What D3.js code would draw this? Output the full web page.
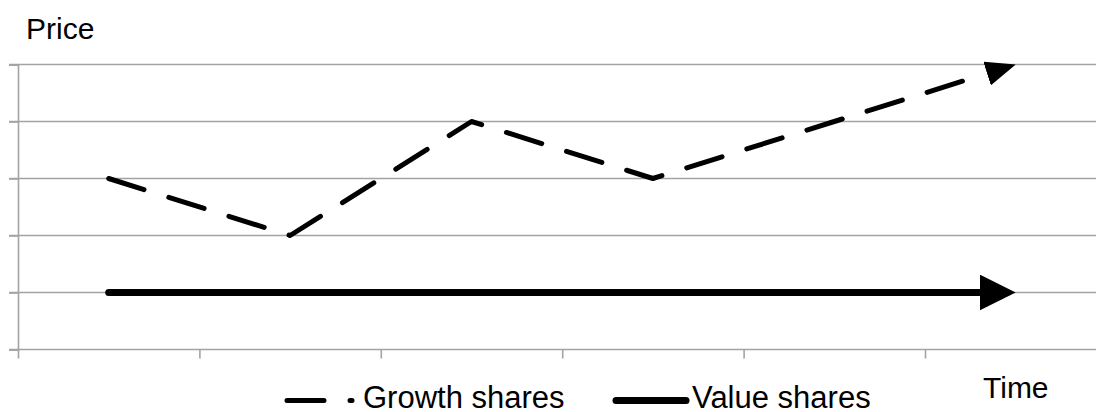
<!DOCTYPE html>
<html>
<head>
<meta charset="utf-8">
<script src="https://cdn.jsdelivr.net/npm/d3@7"></script>
<style>
  html, body { margin: 0; padding: 0; background: #fff; }
  text { font-family: "Liberation Sans", Arial, sans-serif; fill: #000; }
</style>
</head>
<body>
<div id="chart"></div>
<script>
// chart data
const periods = ['t1', 't2', 't3', 't4', 't5', 't6'];
const growthShares = [3, 2, 4, 3, 4, 5];
const valueShares = [1, 1, 1, 1, 1, 1];
const yTicks = [0, 1, 2, 3, 4, 5];

const width = 1096;
const height = 412;

const svg = d3.select('#chart').append('svg')
  .attr('width', width)
  .attr('height', height);

// scales: plot runs a bit past the right edge like the original
const x = d3.scaleBand().domain(periods).range([18, 1106.4]);
const xEdge = d3.scaleLinear().domain([0, periods.length]).range([18, 1106.4]);
const y = d3.scaleLinear().domain([0, 5]).range([349.5, 64.5]);

// gridlines
svg.append('g')
  .selectAll('line')
  .data(yTicks.filter((d) => d > 0))
  .join('line')
  .attr('x1', 9)
  .attr('x2', width)
  .attr('y1', (d) => y(d))
  .attr('y2', (d) => y(d))
  .attr('stroke', '#a3a3a3')
  .attr('stroke-width', 1.6);

// axes
const yAxis = svg.append('g')
  .attr('transform', `translate(${xEdge(0)},0)`)
  .call(d3.axisLeft(y).tickValues(yTicks).tickSize(9).tickFormat(''));

const xAxis = svg.append('g')
  .attr('transform', `translate(0,${y(0)})`)
  .call(d3.axisBottom(xEdge).tickValues(d3.range(0, periods.length + 1)).tickSize(9).tickFormat(''));

[yAxis, xAxis].forEach((a) => {
  a.select('.domain').attr('stroke', '#a3a3a3').attr('stroke-width', 1.6);
  a.selectAll('.tick line').attr('stroke', '#a3a3a3').attr('stroke-width', 1.6);
});
xAxis.select('.domain').attr('d', `M9,0H${width}`);

// arrow markers
const defs = svg.append('defs');
function addMarker(id, len, wid) {
  defs.append('marker')
    .attr('id', id)
    .attr('markerUnits', 'userSpaceOnUse')
    .attr('markerWidth', len)
    .attr('markerHeight', wid)
    .attr('refX', 0)
    .attr('refY', wid / 2)
    .attr('orient', 'auto')
    .attr('viewBox', `0 0 ${len} ${wid}`)
    .append('path')
    .attr('d', `M0,0L${len},${wid / 2}L0,${wid}Z`)
    .attr('fill', '#000');
}
addMarker('arrowGrowth', 30, 25);
addMarker('arrowValue', 36, 36);

// points pulled back at the end so the arrow tip lands on the last value
function arrowPoints(values, back) {
  const pts = values.map((v, i) => [x(periods[i]) + x.bandwidth() / 2, y(v)]);
  const n = pts.length;
  const [x0, y0] = pts[n - 2];
  const [x1, y1] = pts[n - 1];
  const len = Math.hypot(x1 - x0, y1 - y0);
  pts[n - 1] = [x1 - (x1 - x0) * back / len, y1 - (y1 - y0) * back / len];
  return pts;
}

const line = d3.line();

svg.append('path')
  .attr('d', line(arrowPoints(valueShares, 36)))
  .attr('fill', 'none')
  .attr('stroke', '#000')
  .attr('stroke-width', 7)
  .attr('stroke-linecap', 'round')
  .attr('marker-end', 'url(#arrowValue)');

svg.append('path')
  .attr('d', line(arrowPoints(growthShares, 30)))
  .attr('fill', 'none')
  .attr('stroke', '#000')
  .attr('stroke-width', 5)
  .attr('stroke-dasharray', '37,26')
  .attr('stroke-linecap', 'round')
  .attr('stroke-linejoin', 'round')
  .attr('marker-end', 'url(#arrowGrowth)');

// axis titles
svg.append('text')
  .attr('x', 26)
  .attr('y', 39)
  .style('font-size', '30px')
  .text('Price');

svg.append('text')
  .attr('x', 983)
  .attr('y', 398)
  .style('font-size', '30px')
  .text('Time');

// legend
const legend = svg.append('g');
legend.append('line')
  .attr('x1', 287).attr('x2', 352)
  .attr('y1', 400.5).attr('y2', 400.5)
  .attr('stroke', '#000')
  .attr('stroke-width', 5)
  .attr('stroke-dasharray', '37,26')
  .attr('stroke-linecap', 'round');
legend.append('text')
  .attr('x', 363)
  .attr('y', 408)
  .style('font-size', '31px')
  .text('Growth shares');

legend.append('line')
  .attr('x1', 616).attr('x2', 686)
  .attr('y1', 400.5).attr('y2', 400.5)
  .attr('stroke', '#000')
  .attr('stroke-width', 7)
  .attr('stroke-linecap', 'round');
legend.append('text')
  .attr('x', 692)
  .attr('y', 408)
  .style('font-size', '31px')
  .text('Value shares');
</script>
</body>
</html>
